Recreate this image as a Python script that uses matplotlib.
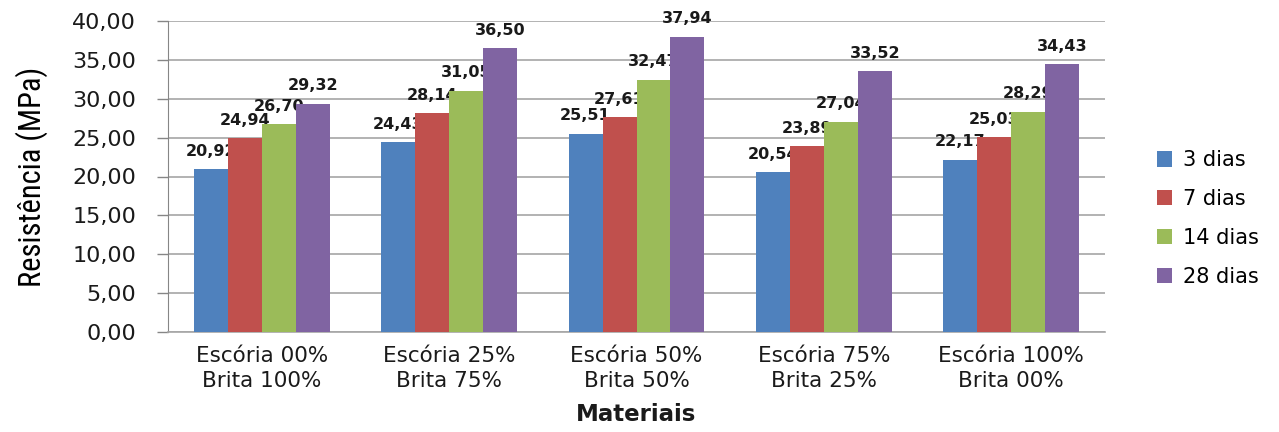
import matplotlib
matplotlib.use("Agg")
import matplotlib.pyplot as plt
from matplotlib import font_manager
import numpy as np

categories = ["Escória 00%\nBrita 100%", "Escória 25%\nBrita 75%",
              "Escória 50%\nBrita 50%", "Escória 75%\nBrita 25%",
              "Escória 100%\nBrita 00%"]
series_names = ["3 dias", "7 dias", "14 dias", "28 dias"]
dias_3 = [20.92, 24.43, 25.51, 20.54, 22.17]
dias_7 = [24.94, 28.14, 27.61, 23.89, 25.03]
dias_14 = [26.70, 31.05, 32.47, 27.04, 28.29]
dias_28 = [29.32, 36.50, 37.94, 33.52, 34.43]
yticks = [0, 5, 10, 15, 20, 25, 30, 35, 40]

series = [dias_3, dias_7, dias_14, dias_28]
colors = ["#4F81BD", "#C0504D", "#9BBB59", "#8064A2"]

def br(v):
    return f"{v:.2f}".replace(".", ",")

# pick a narrow face for the axis title if one is available
installed = {f.name for f in font_manager.fontManager.ttflist}
narrow = [n for n in ["Liberation Sans Narrow", "DejaVu Sans Condensed",
                      "Roboto Condensed", "Open Sans Condensed"] if n in installed]
title_family = (narrow[:1] or []) + ["DejaVu Sans"]

fig = plt.figure(figsize=(12.79, 4.32), dpi=100)
ax = fig.add_axes([168 / 1279, 100 / 432, 937 / 1279, 311 / 432])

x = np.arange(len(categories))
w = 0.1813
for i, (vals, c, name) in enumerate(zip(series, colors, series_names)):
    pos = x + (i - 1.5) * w
    ax.bar(pos, vals, width=w, color=c, label=name, zorder=3)
    for xb, v in zip(pos, vals):
        ax.annotate(br(v), (xb, v), xytext=(0, 13), textcoords="offset points",
                    ha="center", va="center", fontsize=11.5, fontweight="bold",
                    color="#1a1a1a")

ax.set_xlim(-0.5, len(categories) - 0.5)
ax.set_ylim(0, 40)
ax.set_yticks(yticks)
ax.set_yticklabels([br(t) for t in yticks], fontsize=16, color="#1a1a1a")
ax.set_xticks(x)
ax.set_xticklabels(categories, fontsize=15.5, color="#1a1a1a", linespacing=1.3)
ax.tick_params(axis="x", length=0, pad=10)
ax.tick_params(axis="y", length=8, width=1, color="#868686", pad=15)
ax.grid(axis="y", color="#a6a6a6", linewidth=1.2, zorder=0)
for s in ["top", "right"]:
    ax.spines[s].set_visible(False)
ax.spines["left"].set_color("#868686")
ax.spines["bottom"].set_color("#a6a6a6")
ax.spines["bottom"].set_linewidth(1.2)

ax.set_ylabel("Resistência (MPa)", fontsize=22, family=title_family,
              fontstretch="condensed")
ax.yaxis.set_label_coords(-0.128, 0.5)
ax.set_xlabel("Materiais", fontsize=16.5, fontweight="bold", labelpad=9,
              color="#1a1a1a")

ax.legend(loc="center left", bbox_to_anchor=(1.035, 0.365), frameon=False,
          fontsize=15, handlelength=0.75, handleheight=0.75,
          handletextpad=0.5, labelspacing=0.9)

fig.savefig("out.png", dpi=100)
